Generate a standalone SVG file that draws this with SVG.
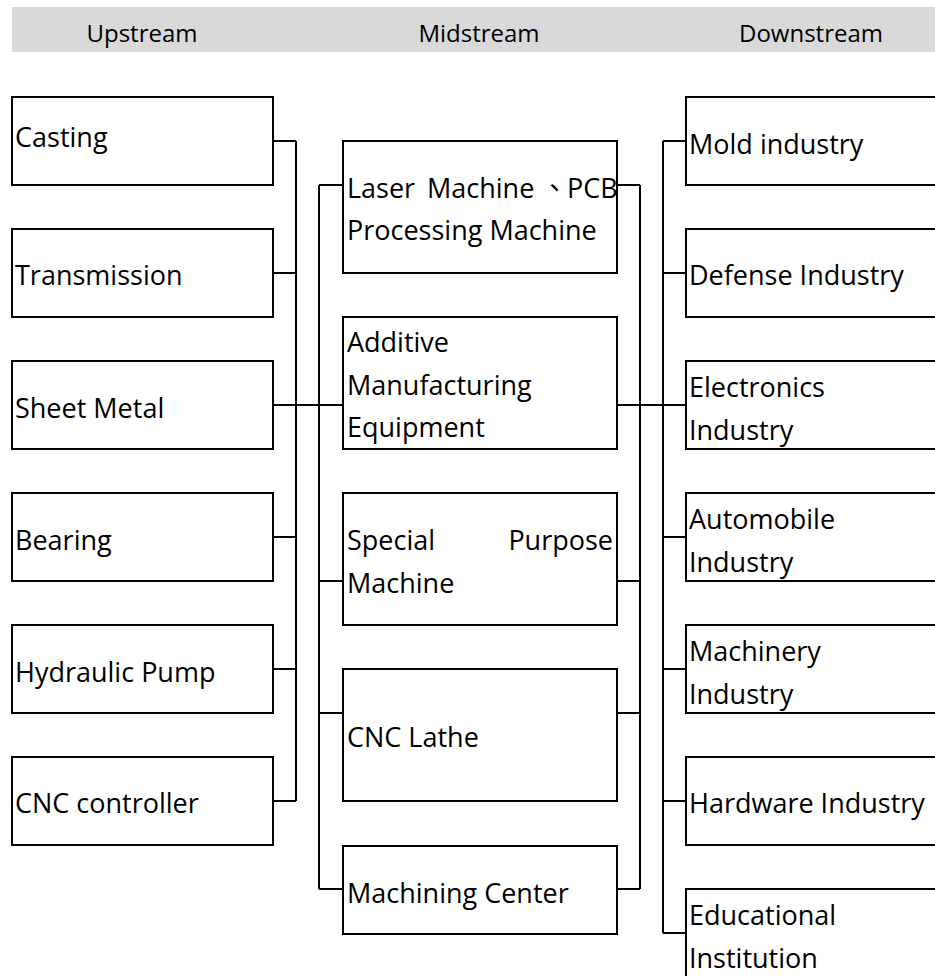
<svg xmlns="http://www.w3.org/2000/svg" width="935" height="976" viewBox="0 0 935 976">
<style>
.box{fill:#fff;stroke:#000;stroke-width:2}
.t{font-family:"Open Sans","Noto Sans","Noto Sans CJK TC",sans-serif;font-size:27px;fill:#000}
.h{font-family:"Open Sans","Noto Sans",sans-serif;font-size:24px;fill:#000;text-anchor:middle}
.c{fill:none;stroke:#000;stroke-width:2}
</style>
<rect x="12" y="7" width="923" height="45" fill="#d9d9d9"/>
<text class="h" x="142" y="42">Upstream</text>
<text class="h" x="479" y="42">Midstream</text>
<text class="h" x="811" y="42">Downstream</text>

<g id="connectors" class="c">
<path d="M273 141H296M273 273H296M273 537H296M273 669H296M273 801H296M296 141V801"/>
<path d="M273 405H343"/>
<path d="M319 185V889M319 185H343M319 581H343M319 713H343M319 889H343"/>
<path d="M617 405H686"/>
<path d="M640 185V889M617 185H640M617 581H640M617 713H640M617 889H640"/>
<path d="M663 141V933M663 141H686M663 273H686M663 537H686M663 669H686M663 801H686M663 933H686"/>
</g>

<g id="casting"><rect class="box" x="12" y="97" width="261" height="88"/><text class="t" x="15" y="147">Casting</text></g>
<g id="transmission"><rect class="box" x="12" y="229" width="261" height="88"/><text class="t" x="15" y="285">Transmission</text></g>
<g id="sheet-metal"><rect class="box" x="12" y="361" width="261" height="88"/><text class="t" x="15" y="418">Sheet Metal</text></g>
<g id="bearing"><rect class="box" x="12" y="493" width="261" height="88"/><text class="t" x="15" y="550">Bearing</text></g>
<g id="hydraulic-pump"><rect class="box" x="12" y="625" width="261" height="88"/><text class="t" x="15" y="682">Hydraulic Pump</text></g>
<g id="cnc-controller"><rect class="box" x="12" y="757" width="261" height="88"/><text class="t" x="15" y="813">CNC controller</text></g>

<g id="laser-pcb"><rect class="box" x="343" y="141" width="274" height="132"/>
<text class="t" y="198"><tspan x="347">Laser</tspan><tspan x="427">Machine</tspan><tspan x="541">、</tspan><tspan x="567">PCB</tspan></text>
<text class="t" x="347" y="240">Processing Machine</text></g>
<g id="additive"><rect class="box" x="343" y="317" width="274" height="132"/>
<text class="t" x="347" y="352">Additive</text><text class="t" x="347" y="395">Manufacturing</text><text class="t" x="347" y="437">Equipment</text></g>
<g id="special-purpose"><rect class="box" x="343" y="493" width="274" height="132"/>
<text class="t" y="550"><tspan x="347">Special</tspan><tspan x="613" text-anchor="end">Purpose</tspan></text>
<text class="t" x="347" y="593">Machine</text></g>
<g id="cnc-lathe"><rect class="box" x="343" y="669" width="274" height="132"/><text class="t" x="347" y="747">CNC Lathe</text></g>
<g id="machining-center"><rect class="box" x="343" y="846" width="274" height="88"/><text class="t" x="347" y="903">Machining Center</text></g>

<g id="mold"><rect class="box" x="686" y="97" width="260" height="88"/><text class="t" x="689" y="154">Mold industry</text></g>
<g id="defense"><rect class="box" x="686" y="229" width="260" height="88"/><text class="t" x="689" y="285">Defense Industry</text></g>
<g id="electronics"><rect class="box" x="686" y="361" width="260" height="88"/><text class="t" x="689" y="397">Electronics</text><text class="t" x="689" y="440">Industry</text></g>
<g id="automobile"><rect class="box" x="686" y="493" width="260" height="88"/><text class="t" x="689" y="529">Automobile</text><text class="t" x="689" y="572">Industry</text></g>
<g id="machinery"><rect class="box" x="686" y="625" width="260" height="88"/><text class="t" x="689" y="661">Machinery</text><text class="t" x="689" y="704">Industry</text></g>
<g id="hardware"><rect class="box" x="686" y="757" width="260" height="88"/><text class="t" x="689" y="813">Hardware Industry</text></g>
<g id="educational"><rect class="box" x="686" y="889" width="260" height="100"/><text class="t" x="689" y="925">Educational</text><text class="t" x="689" y="968">Institution</text></g>
</svg>
